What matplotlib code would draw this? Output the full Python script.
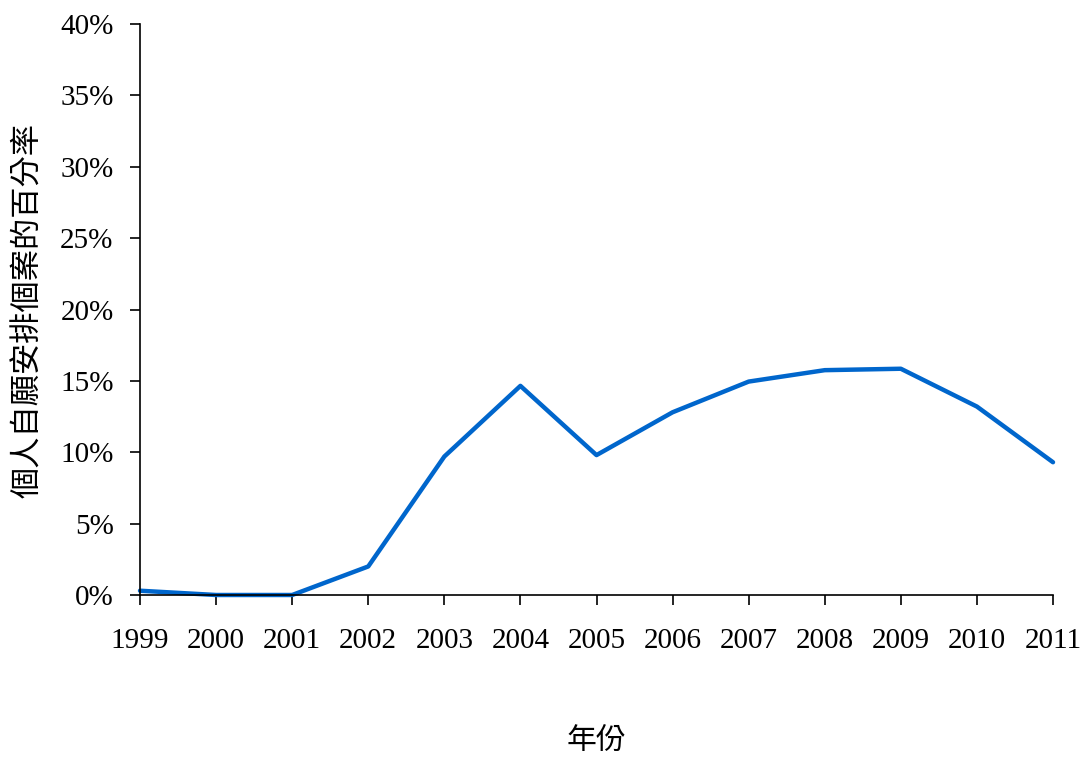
import matplotlib
matplotlib.use("Agg")
import matplotlib.pyplot as plt
from matplotlib.ticker import FuncFormatter

years = ["1999", "2000", "2001", "2002", "2003", "2004", "2005", "2006",
         "2007", "2008", "2009", "2010", "2011"]
values = [0.3, 0.0, 0.0, 2.0, 9.7, 14.65, 9.8, 12.8, 14.95, 15.75, 15.85, 13.2, 9.3]
yticks = [0, 5, 10, 15, 20, 25, 30, 35, 40]

fig = plt.figure(figsize=(10.8, 7.58), dpi=100)
ax = fig.add_axes([140/1080, 1-595/758, (1053-140)/1080, (595-24)/758])

x = list(range(len(years)))
ax.plot(x, values, color="#0066CC", lw=3.2, solid_capstyle="round", clip_on=False)

ax.set_xlim(0, len(years)-1)
ax.set_ylim(0, 40)
ax.set_xticks(x)
ax.set_xticklabels(years, fontfamily="Liberation Serif", fontsize=21)
ax.set_yticks(yticks)
ax.yaxis.set_major_formatter(FuncFormatter(lambda v, p: f"{int(v)}%"))
for lab in ax.get_yticklabels():
    lab.set_fontfamily("Liberation Serif")
    lab.set_fontsize(21)

for s in ["top", "right"]:
    ax.spines[s].set_visible(False)
for s in ["left", "bottom"]:
    ax.spines[s].set_linewidth(1.2)
ax.tick_params(axis="both", direction="out", length=7, width=1.2, color="black")
ax.tick_params(axis="x", pad=17)
ax.tick_params(axis="y", pad=12)

cjk = ["Noto Sans CJK TC", "DejaVu Sans"]
ax.set_ylabel("個人自願安排個案的百分率", fontfamily=cjk, fontsize=22.5,
              ha="center", va="center")
ax.yaxis.set_label_coords((28-140)/913, (595-310)/571)
ax.set_xlabel("年份", fontfamily=cjk, fontsize=21.5, ha="center", va="center")
ax.xaxis.set_label_coords(0.5, (595-741)/571)

fig.savefig("out.png", dpi=100)
